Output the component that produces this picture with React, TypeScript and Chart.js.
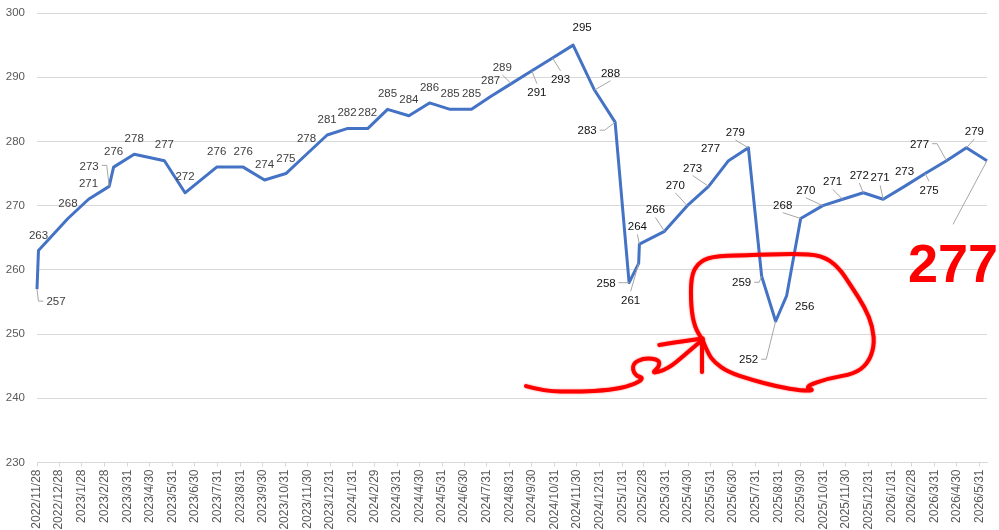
import React, { useEffect, useRef } from "react";
import { Chart, registerables } from "chart.js";

Chart.register(...registerables);

// ---- data ----
const dates = [
  "2022/11/28", "2022/11/30", "2023/1/9", "2023/2/6", "2023/3/6", "2023/3/12", "2023/4/9", "2023/5/20",
  "2023/6/17", "2023/7/30", "2023/9/4", "2023/10/3", "2023/11/1", "2023/11/29", "2023/12/27",
  "2024/1/23", "2024/2/20", "2024/3/18", "2024/4/16", "2024/5/14", "2024/6/11", "2024/7/10",
  "2024/8/5", "2024/9/2", "2024/9/30", "2024/10/28", "2024/11/25", "2024/12/24", "2025/1/21",
  "2025/2/9", "2025/2/22", "2025/2/23", "2025/3/29", "2025/4/29", "2025/5/28", "2025/6/24",
  "2025/7/21", "2025/8/8", "2025/8/27", "2025/9/11", "2025/9/30", "2025/10/30", "2025/11/26",
  "2025/12/24", "2026/1/20", "2026/2/18", "2026/3/18", "2026/4/16", "2026/5/13", "2026/6/10",
];
const values = [
  257, 263, 268, 271, 273, 276, 278, 277,
  272, 276, 276, 274, 275, 278, 281,
  282, 282, 285, 284, 286, 285, 285,
  287, 289, 291, 293, 295, 288, 283,
  258, 261, 264, 266, 270, 273, 277,
  279, 259, 252, 256, 268, 270, 271,
  272, 271, 273, 275, 277, 279, 277,
];
const tickDates = [
  "2022/11/28", "2022/12/28", "2023/1/28", "2023/2/28", "2023/3/31", "2023/4/30", "2023/5/31",
  "2023/6/30", "2023/7/31", "2023/8/31", "2023/9/30", "2023/10/31", "2023/11/30", "2023/12/31",
  "2024/1/31", "2024/2/29", "2024/3/31", "2024/4/30", "2024/5/31", "2024/6/30", "2024/7/31",
  "2024/8/31", "2024/9/30", "2024/10/31", "2024/11/30", "2024/12/31", "2025/1/31", "2025/2/28",
  "2025/3/31", "2025/4/30", "2025/5/31", "2025/6/30", "2025/7/31", "2025/8/31", "2025/9/30",
  "2025/10/31", "2025/11/30", "2025/12/31", "2026/1/31", "2026/2/28", "2026/3/31", "2026/4/30",
  "2026/5/31",
];
const yMin = 230;
const yMax = 300;
const yStep = 10;

// ---- label layout (offset of label centre from its point, px) ----
const labelOffsets: [number, number][] = [
  [19, 12], [0, -16], [0, -16], [0, -16], [-20, -21], [0, -16], [0, -16], [0, -17],
  [0, -17], [0, -16], [0, -16], [0, -16], [0, -16], [0, -16], [0, -16],
  [0, -17], [0, -17], [0, -16], [0, -17], [0, -16], [0, -16], [0, -16],
  [0, -17], [-9, -17], [5, 21], [8, 21], [9, -18.5], [16, -17.5], [-28, 8],
  [-23, 0], [-8, 36], [-2, -18], [-9, -22], [-12, -21], [-16, -19], [-18, -13],
  [-13, -16], [-20, 6], [-27, 38], [18, 10], [-18, -14], [-17, -16], [-10, -18],
  [-4, -18], [-3, -22], [0, -16], [4, 16], [-27, -17], [8, -17], [-34, 102],
];
// 0 = none, 1 = side stub leader, 2 = top/bottom leader
const leaderModes = [
  1, 0, 0, 0, 1, 0, 0, 0,
  0, 0, 0, 0, 0, 0, 0,
  0, 0, 0, 0, 0, 0, 0,
  0, 2, 2, 2, 0, 2, 1,
  1, 2, 2, 2, 2, 2, 0,
  2, 1, 1, 0, 2, 2, 2,
  2, 2, 0, 2, 1, 2, 2,
];

// ---- hand-drawn red annotation, in (day offset, value) units ----
const redCircle: [number, number][] = [
  [904, 249.0], [911, 247.0], [920, 245.6], [938, 244.1], [970, 242.9], [1006, 241.8], [1038, 241.2],
  [1056, 241.2], [1042, 241.8], [1074, 243.1], [1110, 243.8], [1128, 245.4], [1137, 248.0],
  [1135, 251.1], [1124, 254.2], [1106, 257.4], [1088, 260.5], [1065, 262.3], [1029, 262.5],
  [961, 262.3], [915, 262.1], [897, 261.0], [888, 258.9], [888, 254.2], [893, 251.1], [904, 249.0],
];
const redTail: [number, number][] = [
  [664, 241.9], [689, 241.1], [734, 241.0], [779, 241.3], [807, 242.0], [825, 243.1], [811, 243.6],
  [808, 245.4], [825, 246.3], [845, 246.0], [845, 244.9], [834, 243.8], [857, 244.6], [879, 246.7],
  [897, 248.5], [904, 249.1],
];
const redArrow: [number, number][] = [[845, 248.3], [870, 248.8], [904, 249.3]];
const redStem: [number, number][] = [[903, 249.0], [903, 244.1]];

const FONT = '"Liberation Sans", Arial, sans-serif';

function dayOf(s: string): number {
  const [y, m, d] = s.split("/").map(Number);
  const [y0, m0, d0] = dates[0].split("/").map(Number);
  return Math.round((Date.UTC(y, m - 1, d) - Date.UTC(y0, m0 - 1, d0)) / 86400000);
}

const points = dates.map((d, i) => ({ x: dayOf(d), y: values[i] }));
const tickDays = tickDates.map(dayOf);
const tickLabelMap = new Map<number, string>();
tickDays.forEach((v, i) => tickLabelMap.set(v, tickDates[i]));

function drawSmooth(ctx: CanvasRenderingContext2D, pts: { x: number; y: number }[]) {
  if (pts.length < 2) return;
  ctx.beginPath();
  ctx.moveTo(pts[0].x, pts[0].y);
  if (pts.length === 2) {
    ctx.lineTo(pts[1].x, pts[1].y);
  } else {
    for (let i = 1; i < pts.length - 1; i++) {
      const mx = (pts[i].x + pts[i + 1].x) / 2;
      const my = (pts[i].y + pts[i + 1].y) / 2;
      ctx.quadraticCurveTo(pts[i].x, pts[i].y, mx, my);
    }
    const last = pts[pts.length - 1];
    ctx.lineTo(last.x, last.y);
  }
  ctx.stroke();
}

const annotationPlugin = {
  id: "annot",
  afterDatasetsDraw(chart: any) {
    const ctx: CanvasRenderingContext2D = chart.ctx;
    const xs = chart.scales.x;
    const ys = chart.scales.y;
    const map = (arr: [number, number][]) =>
      arr.map(([d, v]) => ({ x: xs.getPixelForValue(d), y: ys.getPixelForValue(v) }));

    // red freehand drawing
    ctx.save();
    ctx.strokeStyle = "#ff0000";
    ctx.lineWidth = 4;
    ctx.lineCap = "round";
    ctx.lineJoin = "round";
    ctx.shadowColor = "rgba(255,0,0,0.6)";
    ctx.shadowBlur = 2;
    [redCircle, redTail, redArrow, redStem].forEach((p) => drawSmooth(ctx, map(p)));
    ctx.restore();

    // data labels
    const meta = chart.getDatasetMeta(0);
    ctx.save();
    meta.data.forEach((pt: any, i: number) => {
      const big = i === values.length - 1;
      const size = big ? 54 : 11.5;
      ctx.font = `${big ? "bold " : ""}${size}px ${FONT}`;
      const text = String(values[i]);
      const w = ctx.measureText(text).width;
      const h = size * 0.72;
      const [dx, dy] = labelOffsets[i];
      const cx = pt.x + dx;
      const cy = pt.y + dy;
      const mode = leaderModes[i];
      if (mode) {
        ctx.strokeStyle = "#a6a6a6";
        ctx.lineWidth = 1;
        ctx.beginPath();
        if (mode === 1) {
          const side = pt.x > cx ? 1 : -1;
          const ex = cx + side * (w / 2 + 3);
          ctx.moveTo(ex, cy);
          ctx.lineTo(ex + side * 5, cy);
          ctx.lineTo(pt.x, pt.y);
        } else {
          const side = pt.y > cy ? 1 : -1;
          const ey = cy + side * (h / 2 + size * 0.35);
          ctx.moveTo(cx, ey);
          ctx.lineTo(pt.x, pt.y);
        }
        ctx.stroke();
      }
      ctx.fillStyle = big ? "#ff0000" : i < 24 ? "#404040" : "#111111";
      ctx.textAlign = "center";
      ctx.textBaseline = "alphabetic";
      ctx.fillText(text, cx, cy + h / 2);
    });
    ctx.restore();
  },
};

export default function App() {
  const ref = useRef<HTMLCanvasElement | null>(null);
  useEffect(() => {
    if (!ref.current) return;
    Chart.defaults.font.family = FONT;
    const chart = new Chart(ref.current, {
      type: "line",
      data: {
        datasets: [
          {
            data: points,
            borderColor: "#4472C4",
            borderWidth: 3,
            pointRadius: 0,
            borderJoinStyle: "round",
            tension: 0,
            fill: false,
            clip: 4,
          } as any,
        ],
      },
      options: {
        animation: false,
        responsive: true,
        maintainAspectRatio: false,
        layout: { padding: { top: 13, right: 12, left: 0, bottom: 0 } },
        plugins: { legend: { display: false }, tooltip: { enabled: false } },
        scales: {
          x: {
            type: "linear",
            min: 0,
            max: points[points.length - 1].x,
            bounds: "data",
            afterBuildTicks: (scale: any) => {
              scale.ticks = tickDays.map((v) => ({ value: v }));
            },
            afterFit: (scale: any) => {
              scale.height = 67.5;
              scale.paddingLeft = 0;
              scale.paddingRight = 0;
            },
            ticks: {
              autoSkip: false,
              minRotation: 90,
              maxRotation: 90,
              padding: 3,
              color: "#595959",
              font: { size: 12, family: FONT },
              callback: (v: any) => tickLabelMap.get(Number(v)) ?? "",
            },
            grid: {
              display: true,
              drawOnChartArea: false,
              drawTicks: true,
              tickLength: 4,
              color: "#d9d9d9",
            },
            border: { display: true, color: "#d9d9d9" },
          },
          y: {
            min: yMin,
            max: yMax,
            afterFit: (scale: any) => {
              scale.width = 37;
              scale.paddingTop = 0;
              scale.paddingBottom = 0;
            },
            ticks: {
              stepSize: yStep,
              padding: 12,
              color: "#595959",
              font: { size: 11.5, family: FONT },
            },
            grid: { color: "#d9d9d9", drawTicks: false },
            border: { display: false },
          },
        },
      } as any,
      plugins: [annotationPlugin],
    });
    return () => chart.destroy();
  }, []);
  return (
    <div style={{ position: "fixed", left: 0, top: 0, width: 999, height: 530, background: "#fff" }}>
      <canvas ref={ref} />
    </div>
  );
}
